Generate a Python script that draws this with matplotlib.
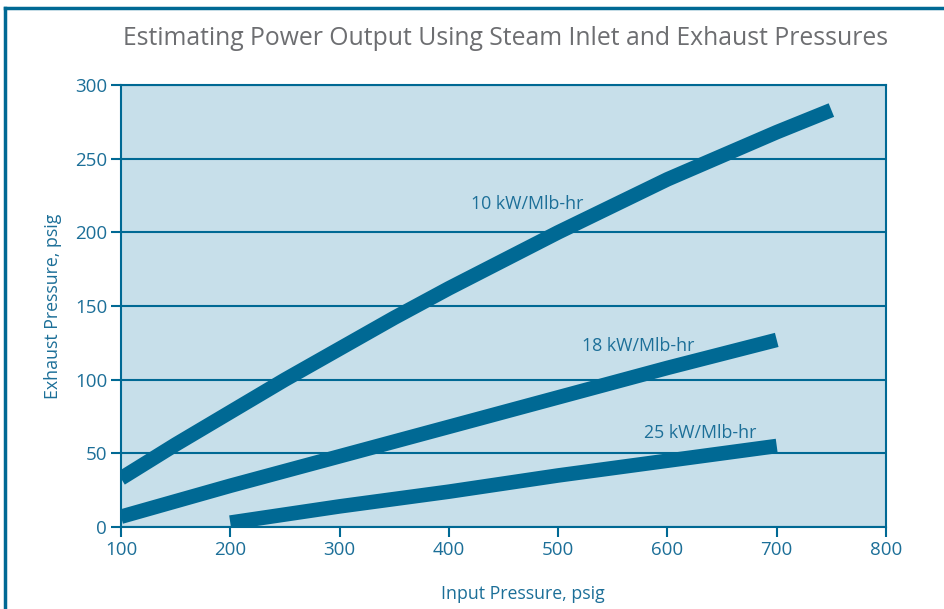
import matplotlib.pyplot as plt
from matplotlib.lines import Line2D

# data
x_10 = [100, 150, 200, 250, 300, 350, 400, 500, 600, 700, 750]
y_10 = [33, 56, 78, 100, 121, 142, 162, 200, 236, 268, 283]
x_18 = [100, 200, 300, 400, 500, 600, 700]
y_18 = [7, 28, 48, 68, 88, 108, 127]
x_25 = [200, 300, 400, 500, 600, 700]
y_25 = [3, 14, 24, 35, 45, 55]
labels = ['10 kW/Mlb-hr', '18 kW/Mlb-hr', '25 kW/Mlb-hr']

line_c = '#006994'
text_c = '#1c6f98'
bg_c = '#c7dfea'
font = 'Open Sans'

plt.rcParams['font.family'] = [font, 'DejaVu Sans']

fig = plt.figure(figsize=(9.45, 6.09), dpi=100)
ax = fig.add_axes([0.128, 0.1346, 0.8096, 0.7258])
ax.set_facecolor(bg_c)

for xs, ys in [(x_10, y_10), (x_18, y_18), (x_25, y_25)]:
    ax.plot(xs, ys, color=line_c, linewidth=10.5, solid_capstyle='butt',
            solid_joinstyle='round', zorder=3)

ax.text(472, 219, labels[0], color=text_c, fontsize=12.8, ha='center', va='center')
ax.text(573, 123, labels[1], color=text_c, fontsize=12.8, ha='center', va='center')
ax.text(630, 64, labels[2], color=text_c, fontsize=12.8, ha='center', va='center')

ax.set_xlim(100, 800)
ax.set_ylim(0, 300)
ax.set_xticks(range(100, 801, 100))
ax.set_yticks(range(0, 301, 50))
ax.yaxis.grid(True, color=line_c, linewidth=1.5, zorder=1)
ax.set_axisbelow(True)
for s in ax.spines.values():
    s.set_color(line_c)
    s.set_linewidth(1.5)
ax.tick_params(colors=line_c, labelcolor=text_c, labelsize=13.5, length=7, width=1.5, pad=3)

ax.set_xlabel('Input Pressure, psig', color=text_c, fontsize=12.8)
ax.xaxis.set_label_coords(0.525, -0.132)
ax.set_ylabel('Exhaust Pressure, psig', color=text_c, fontsize=12.8)
ax.yaxis.set_label_coords(-0.077, 0.5)

fig.text(0.535, 0.936, 'Estimating Power Output Using Steam Inlet and Exhaust Pressures',
         color='#6d6e71', fontsize=17.8, ha='center', va='center')

# outer frame (top and left edges)
fig.add_artist(Line2D([0.0055, 1.0], [0.987, 0.987], color=line_c, linewidth=2.5, transform=fig.transFigure))
fig.add_artist(Line2D([0.0055, 0.0055], [0.0, 0.987], color=line_c, linewidth=2.5, transform=fig.transFigure))

fig.savefig('out.png', dpi=100)
